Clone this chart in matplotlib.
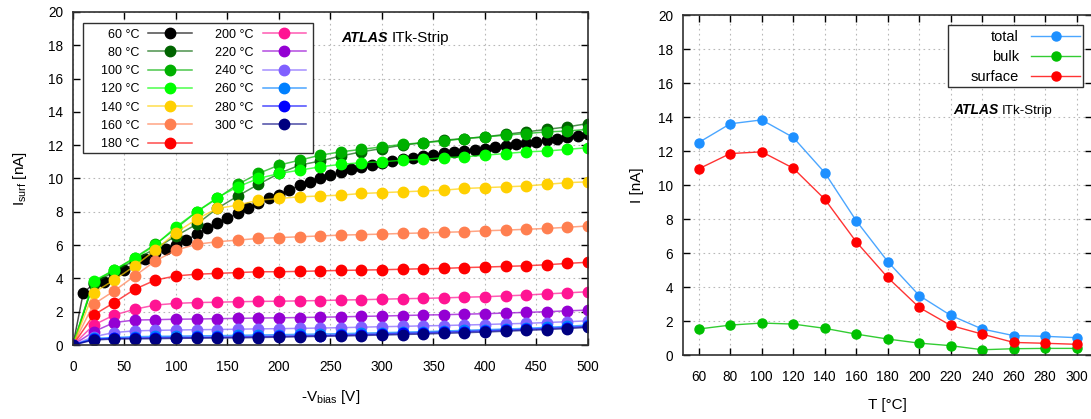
import matplotlib.pyplot as plt
import numpy as np
from matplotlib.colors import to_rgba
from matplotlib.patches import Rectangle

plt.rcParams['font.family'] = ['Liberation Sans', 'DejaVu Sans']

# ---- left panel: surface current vs bias voltage, per annealing temperature ----
temps = [60, 80, 100, 120, 140, 160, 180, 200, 220, 240, 260, 280, 300]
colors = ['black', '#006400', '#00b000', '#00ff00', '#ffd000', '#ff7f50', '#ff0000',
          '#ff1493', '#9400d3', '#8060ff', '#0080ff', '#0000ff', '#000080']

v_fine = list(range(0, 510, 10))   # 60 C measured every 10 V
v_std = list(range(0, 520, 20))    # the rest every 20 V

i_60 = [0, 3.15, 3.65, 3.8, 4.3, 4.5, 4.9, 5.15, 5.55, 5.75, 6.0, 6.3, 6.64, 7.0, 7.3, 7.6, 7.9,
        8.2, 8.5, 8.8, 9.0, 9.3, 9.6, 9.8, 10.0, 10.2, 10.4, 10.55, 10.7, 10.82, 10.94, 11.05,
        11.15, 11.25, 11.35, 11.44, 11.52, 11.6, 11.67, 11.74, 11.8, 11.9, 11.98, 12.05, 12.12,
        12.2, 12.3, 12.4, 12.48, 12.56, 12.68]
i_80 = [0, 3.7, 4.4, 5.1, 5.8, 6.55, 7.25, 8.2, 8.95, 9.65, 10.3, 10.8, 11.05, 11.35, 11.6,
        11.8, 12.0, 12.15, 12.3, 12.4, 12.5, 12.65, 12.8, 12.95, 13.1, 13.3]
i_100 = [0, 3.8, 4.5, 5.25, 6.05, 7.0, 8.0, 8.8, 9.65, 10.3, 10.8, 11.1, 11.4, 11.6, 11.75,
         11.9, 12.05, 12.15, 12.25, 12.4, 12.5, 12.6, 12.7, 12.8, 12.85, 12.95]
i_120 = [0, 3.85, 4.5, 5.2, 6.0, 7.1, 8.0, 8.85, 9.5, 10.0, 10.3, 10.5, 10.7, 10.85, 10.95,
         11.0, 11.1, 11.15, 11.25, 11.3, 11.4, 11.5, 11.6, 11.65, 11.75, 11.85]
i_140 = [0, 3.15, 3.9, 4.75, 5.7, 6.75, 7.55, 8.2, 8.4, 8.7, 8.8, 8.9, 8.95, 9.0, 9.1, 9.15,
         9.2, 9.25, 9.3, 9.4, 9.45, 9.5, 9.55, 9.65, 9.75, 9.8]
i_160 = [0, 2.45, 3.25, 4.15, 5.05, 5.7, 6.05, 6.2, 6.3, 6.4, 6.45, 6.5, 6.55, 6.6, 6.63, 6.66,
         6.7, 6.73, 6.77, 6.8, 6.86, 6.9, 6.95, 7.0, 7.07, 7.15]
i_180 = [0, 1.8, 2.55, 3.35, 3.9, 4.15, 4.25, 4.3, 4.35, 4.4, 4.4, 4.42, 4.45, 4.48, 4.5, 4.52,
         4.55, 4.58, 4.6, 4.65, 4.68, 4.72, 4.76, 4.82, 4.9, 4.97]
i_200 = [0, 1.2, 1.8, 2.15, 2.4, 2.5, 2.55, 2.57, 2.6, 2.62, 2.63, 2.65, 2.67, 2.7, 2.72, 2.75,
         2.78, 2.8, 2.83, 2.87, 2.9, 2.95, 3.0, 3.07, 3.13, 3.2]
i_220 = [0, 0.8, 1.35, 1.5, 1.52, 1.55, 1.56, 1.58, 1.6, 1.62, 1.63, 1.65, 1.67, 1.69, 1.72,
         1.74, 1.77, 1.8, 1.82, 1.85, 1.88, 1.92, 1.96, 2.0, 2.05, 2.1]
i_240 = [0, 0.5, 0.75, 0.85, 0.88, 0.9, 0.92, 0.93, 0.95, 0.97, 0.98, 1.0, 1.02, 1.04, 1.07,
         1.1, 1.12, 1.15, 1.17, 1.2, 1.23, 1.27, 1.3, 1.35, 1.4, 1.45]
i_260 = [0, 0.4, 0.45, 0.5, 0.52, 0.53, 0.55, 0.56, 0.58, 0.6, 0.62, 0.64, 0.66, 0.68, 0.71,
         0.74, 0.77, 0.8, 0.84, 0.88, 0.92, 0.96, 1.0, 1.06, 1.12, 1.2]
i_280 = [0, 0.35, 0.4, 0.42, 0.44, 0.45, 0.46, 0.47, 0.49, 0.51, 0.53, 0.55, 0.57, 0.6, 0.63,
         0.66, 0.7, 0.73, 0.77, 0.81, 0.85, 0.89, 0.94, 0.99, 1.05, 1.12]
i_300 = [0, 0.3, 0.36, 0.37, 0.38, 0.4, 0.41, 0.42, 0.43, 0.45, 0.47, 0.5, 0.52, 0.54, 0.57,
         0.6, 0.63, 0.66, 0.7, 0.74, 0.78, 0.83, 0.88, 0.93, 0.99, 1.06]

surf_curves = [i_60, i_80, i_100, i_120, i_140, i_160, i_180, i_200, i_220, i_240, i_260, i_280, i_300]

# ---- right panel: total / bulk / surface current vs temperature ----
t_anneal = [60, 80, 100, 120, 140, 160, 180, 200, 220, 240, 260, 280, 300]
i_total = [12.5, 13.6, 13.83, 12.8, 10.73, 7.9, 5.5, 3.5, 2.33, 1.53, 1.14, 1.1, 1.02]
i_bulk = [1.53, 1.76, 1.88, 1.82, 1.57, 1.23, 0.94, 0.7, 0.55, 0.31, 0.37, 0.39, 0.39]
i_surface = [10.95, 11.85, 11.95, 10.99, 9.17, 6.66, 4.56, 2.8, 1.74, 1.23, 0.74, 0.69, 0.63]


def style_axes(ax):
    ax.tick_params(direction='in', top=True, right=True, length=5, labelsize=9.8, width=1)
    ax.tick_params(axis='x', pad=11)
    ax.tick_params(axis='y', pad=7)
    ax.grid(True, linestyle=(0, (1.5, 3)), color='#b8b8b8', linewidth=0.8)
    for s in ax.spines.values():
        s.set_linewidth(1.2)
        s.set_color('#303030')


def legend_box(ax, x0, y0, x1, y1):
    # gnuplot-style key frame, a bit roomier on the left than matplotlib's
    ax.add_patch(Rectangle((x0, y0), x1 - x0, y1 - y0, transform=ax.transAxes,
                           facecolor='white', edgecolor='#303030', lw=1.0, zorder=4.5))


def atlas_label(ax, x, y, size_a, size_b):
    t = ax.text(x, y, 'ATLAS', transform=ax.transAxes, fontsize=size_a,
                fontweight='bold', fontstyle='italic', ha='left', va='bottom')
    ax.annotate('ITk-Strip', xy=(1, 0), xycoords=t, xytext=(3, 0),
                textcoords='offset points', fontsize=size_b, ha='left', va='bottom')


fig = plt.figure(figsize=(10.91, 4.19), dpi=100)

ax1 = fig.add_axes([0.0669, 0.1766, 0.472, 0.7948])
for t, c, y in zip(temps, colors, surf_curves):
    x = v_fine if t == 60 else v_std
    ax1.plot(x, y, '-o', color=to_rgba(c, 0.7), mfc=c, mec=c, ms=7.5, lw=1.1,
             label=f'{t} °C')

ax1.set_xlim(0, 500)
ax1.set_ylim(0, 20)
ax1.set_xticks(np.arange(0, 501, 50))
ax1.set_yticks(np.arange(0, 21, 2))
style_axes(ax1)
ax1.set_xlabel(r'-V$_{\mathregular{bias}}$ [V]', fontsize=11, labelpad=10)
ax1.set_ylabel(r'I$_{\mathregular{surf}}$ [nA]', fontsize=11, labelpad=14)
legend_box(ax1, 0.0194, 0.577, 0.466, 0.967)
leg1 = ax1.legend(ncol=2, loc='upper right', bbox_to_anchor=(0.464, 0.967), markerfirst=False,
                  fontsize=9, frameon=False, handlelength=3.5, columnspacing=1.9,
                  labelspacing=0.5, borderpad=0.45, handletextpad=0.7, borderaxespad=0)
leg1.set_zorder(5)
for txt in leg1.get_texts():
    txt.set_ha('right')
atlas_label(ax1, 0.521, 0.9, 10.3, 11)

ax2 = fig.add_axes([0.626, 0.1527, 0.3753, 0.8115])
ax2.plot(t_anneal, i_total, '-o', color=to_rgba('#1e90ff', 0.8), mfc='#1e90ff', mec='#1e90ff',
         ms=6.5, lw=1.0, label='total')
ax2.plot(t_anneal, i_bulk, '-o', color=to_rgba('#00c000', 0.8), mfc='#00c000', mec='#00c000',
         ms=6.5, lw=1.0, label='bulk')
ax2.plot(t_anneal, i_surface, '-o', color=to_rgba('#ff0000', 0.8), mfc='#ff0000',
         mec='#ff0000', ms=6.5, lw=1.0, label='surface')
ax2.set_xlim(50, 310)
ax2.set_ylim(0, 20)
ax2.set_xticks(np.arange(60, 301, 20))
ax2.set_yticks(np.arange(0, 21, 2))
style_axes(ax2)
ax2.set_xlabel('T [°C]', fontsize=11, labelpad=10)
ax2.set_ylabel('I [nA]', fontsize=11, labelpad=10)
legend_box(ax2, 0.647, 0.789, 0.977, 0.971)
leg2 = ax2.legend(loc='upper right', bbox_to_anchor=(0.983, 0.971), markerfirst=False,
                  fontsize=10.5, frameon=False, handlelength=3.4, labelspacing=0.4,
                  borderpad=0.35, handletextpad=0.8, borderaxespad=0)
leg2.set_zorder(5)
for txt in leg2.get_texts():
    txt.set_ha('right')
atlas_label(ax2, 0.659, 0.7, 10, 9.6)

fig.savefig('out.png', dpi=100)
